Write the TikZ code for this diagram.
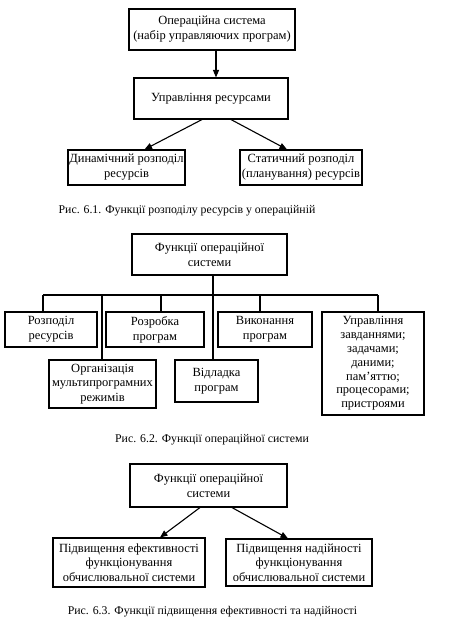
\documentclass[tikz,border=0pt]{standalone}
\usepackage{fontspec}
\setmainfont{Liberation Serif}
\usetikzlibrary{calc, arrows.meta}

\begin{document}
\begin{tikzpicture}[x=1pt, y=-1pt, line width=1.1pt,
  box/.style={draw, align=center, inner sep=1pt, font=\fontsize{12.5}{15}\selectfont},
  arr/.style={-{Triangle[length=7.5pt, width=6pt]}},
  caption/.style={font=\fontsize{11.8}{13}\selectfont}]
  \useasboundingbox (0,0) rectangle (448,631);
  % Рис. 6.1
  \node[box, minimum width=166pt, minimum height=41pt] (os) at (212,29.5)
    {Операційна система\\(набір управляючих програм)};
  \node[box, minimum width=154pt, minimum height=41pt] (res) at (211,98.5)
    {Управління ресурсами};
  \node[box, minimum width=117pt, minimum height=35pt] (dyn) at (126.5,167.5)
    {Динамічний розподіл\\ресурсів};
  \node[box, minimum width=122pt, minimum height=35pt] (stat) at (301,167.5)
    {Статичний розподіл\\(планування) ресурсів};
  \draw[arr] ($(os.south)+(4,0)$) -- ($(res.north)+(5,0)$);
  \draw[arr] ($(res.south)+(-9,0)$) -- ($(dyn.north)+(18,0)$);
  \draw[arr] ($(res.south)+(20,0)$) -- ($(stat.north)+(-14,0)$);
  \node[caption] (cap1) at (187,211) {Рис. 6.1. Функції розподілу ресурсів у операційній};

  % Рис. 6.2
  \node[box, minimum width=155pt, minimum height=41pt] (fos) at (209.5,254.5)
    {Функції операційної\\системи};
  \node[box, minimum width=92pt, minimum height=35pt] (rozp) at (51,329.5)
    {Розподіл\\ресурсів};
  \node[box, minimum width=98pt, minimum height=35pt] (rozr) at (155,329.5)
    {Розробка\\програм};
  \node[box, minimum width=94pt, minimum height=35pt] (vyk) at (265,329.5)
    {Виконання\\програм};
  \node[box, minimum width=102pt, minimum height=103pt, font=\fontsize{12.5}{13.8}\selectfont] (upr) at (373,363.5)
    {Управління\\завданнями;\\задачами;\\даними;\\пам’яттю;\\процесорами;\\пристроями};
  \node[box, minimum width=107pt, minimum height=48pt, font=\fontsize{12.5}{14.5}\selectfont] (org) at (102.5,384)
    {Організація\\мультипрограмних\\режимів};
  \node[box, minimum width=83pt, minimum height=42pt] (vidl) at (216.5,381)
    {Відладка\\програм};
  \draw ($(fos.south)+(3.5,0)$) -- (213,0 |- vidl.north);
  \draw (43,295) -- (378,295);
  \foreach \x/\n in {43/rozp, 102/org, 161/rozr, 260/vyk, 378/upr}
    \draw (\x,295) -- (\x,0 |- \n.north);
  \node[caption] (cap2) at (212,440) {Рис. 6.2. Функції операційної системи};

  % Рис. 6.3
  \node[box, minimum width=157pt, minimum height=43pt] (fos2) at (208.5,485.5)
    {Функції операційної\\системи};
  \node[box, minimum width=152pt, minimum height=49pt, font=\fontsize{12.5}{14.5}\selectfont] (eff) at (129,562.5)
    {Підвищення ефективності\\функціонування\\обчислювальної системи};
  \node[box, minimum width=146pt, minimum height=47pt, font=\fontsize{12.5}{14.5}\selectfont] (nad) at (299,562.5)
    {Підвищення надійності\\функціонування\\обчислювальної системи};
  \draw[arr] ($(fos2.south)+(-8.5,0)$) -- ($(eff.north)+(31,0)$);
  \draw[arr] ($(fos2.south)+(23.5,0)$) -- ($(nad.north)+(-11,0)$);
  \node[caption] (cap3) at (212.5,612) {Рис. 6.3. Функції підвищення ефективності та надійності};
\end{tikzpicture}
\end{document}
